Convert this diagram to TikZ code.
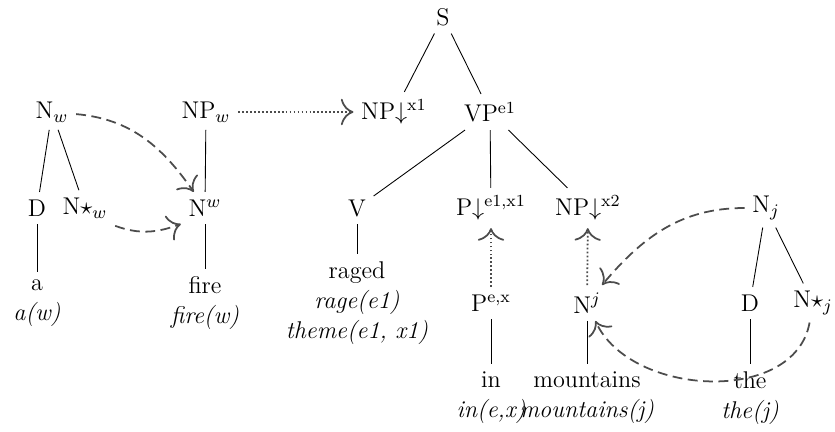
\documentclass[tikz,border=0pt]{standalone}
\usepackage{amsmath,amssymb}
\usepackage{tikz}
\usetikzlibrary{arrows.meta}

\begin{document}
\begin{tikzpicture}[x=0.4545pt,y=0.4545pt,
  every node/.style={font=\fontsize{11pt}{13.6pt}\selectfont,align=center},
  tr/.style={draw=black},
  link/.style={draw=black!70,thick,dash pattern=on 4.5pt off 2.5pt,-{To[scale=1.7]}},
  subst/.style={draw=black!70,thick,densely dotted,-{To[scale=1.7]}}]

\useasboundingbox (0,0) rectangle (835,-432);

% main tree
\node (s)     at (443,-17)  {S};
\node (npx1)  at (394,-112) {NP$\downarrow$\textsuperscript{x1}};
\node (vp)    at (490,-112) {VP\textsuperscript{e1}};
\node (v)     at (357,-208) {V};
\node (pd)    at (491,-208) {P$\downarrow$\textsuperscript{e1,x1}};
\node (npx2)  at (588,-208) {NP$\downarrow$\textsuperscript{x2}};
\node (raged) at (357,-303) {raged\\\textit{rage(e1)}\\\textit{theme(e1, x1)}};
\node (pex)   at (491,-303) {P\textsuperscript{e,x}};
\node (nupj)  at (587,-303) {N$^j$};
\node (in)    at (491,-398) {in\\\textit{in(e,x)}};
\node (mnt)   at (587,-398) {mountains\\\textit{mountains(j)}};

% w trees
\node (nlow)  at (52,-112)  {N$_w$};
\node (dw)    at (37,-208)  {D};
\node (nsw)   at (85,-208)  {N$\star_w$};
\node (a)     at (37,-303)  {a\\\textit{a(w)}};
\node (npw)   at (206,-112) {NP$_w$};
\node (nupw)  at (205,-208) {N$^w$};
\node (fire)  at (205,-303) {fire\\\textit{fire(w)}};

% j tree
\node (nloj)  at (766,-208) {N$_j$};
\node (dj)    at (750,-303) {D};
\node (nsj)   at (813,-303) {N$\star_j$};
\node (the)   at (750,-398) {the\\\textit{the(j)}};

\draw[tr] (s) -- (npx1);
\draw[tr] (s) -- (vp);
\draw[tr] (vp) -- (v);
\draw[tr] (vp) -- (pd);
\draw[tr] (vp) -- (npx2);
\draw[tr] (v) -- (raged);
\draw[tr] (pex) -- (in);
\draw[tr] (nupj) -- (mnt);
\draw[tr] (nlow) -- (dw);
\draw[tr] (nlow) -- (nsw);
\draw[tr] (dw) -- (a);
\draw[tr] (npw) -- (nupw);
\draw[tr] (nupw) -- (fire);
\draw[tr] (nloj) -- (dj);
\draw[tr] (nloj) -- (nsj);
\draw[tr] (dj) -- (the);

% substitution
\draw[subst] (npw) -- (npx1);
\draw[subst] (pex) -- (pd);
\draw[subst] (nupj) -- (npx2);

% links
\draw[link] (nlow) to[out=-5,in=125] (nupw);
\draw[link] (nsw.south east) to[out=-20,in=200] (nupw.south west);
\draw[link] (nloj) to[out=180,in=50] (nupj);
\draw[link] (nsj) to[out=-100,in=-65] (nupj);
\end{tikzpicture}
\end{document}
